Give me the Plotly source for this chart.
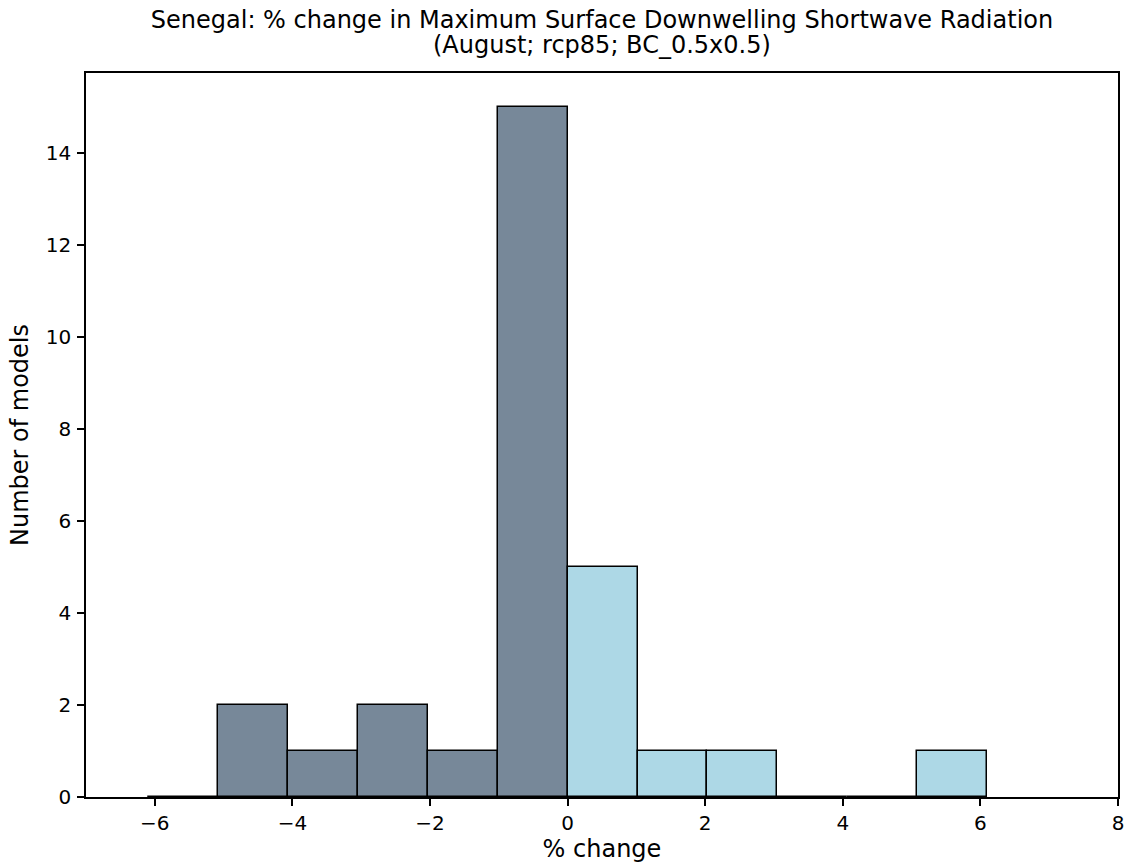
import plotly.graph_objects as go

# Histogram bin edges (12 bins, symmetric around 0)
bin_edges = [-6.1, -5.083, -4.067, -3.05, -2.033, -1.017, 0.0,
             1.017, 2.033, 3.05, 4.067, 5.083, 6.1]
# Model counts per bin
neg_counts = [0, 2, 1, 2, 1, 15]   # bins below 0
pos_counts = [5, 1, 1, 0, 0, 1]    # bins above 0

x_ticks = [-6, -4, -2, 0, 2, 4, 6, 8]
y_ticks = [0, 2, 4, 6, 8, 10, 12, 14]

title_line1 = "Senegal: % change in Maximum Surface Downwelling Shortwave Radiation"
title_line2 = "(August; rcp85; BC_0.5x0.5)"

centers = [(bin_edges[i] + bin_edges[i + 1]) / 2 for i in range(len(bin_edges) - 1)]
widths = [bin_edges[i + 1] - bin_edges[i] for i in range(len(bin_edges) - 1)]
n_neg = len(neg_counts)

fig = go.Figure()
fig.add_trace(go.Bar(
    x=centers[:n_neg], y=neg_counts, width=widths[:n_neg],
    marker=dict(color="#778899", line=dict(color="black", width=1.5)),
    showlegend=False,
))
fig.add_trace(go.Bar(
    x=centers[n_neg:], y=pos_counts, width=widths[n_neg:],
    marker=dict(color="#add8e6", line=dict(color="black", width=1.5)),
    showlegend=False,
))

font = dict(family="DejaVu Sans", size=20, color="black")
tfont = dict(family="DejaVu Sans", size=24, color="black")

H = 865
PH = 865 - 73 - 68

fig.update_layout(
    width=1128, height=865,
    margin=dict(l=86, r=10, t=73, b=68, autoexpand=False),
    paper_bgcolor="white", plot_bgcolor="white",
    font=font,
    bargap=0,
    title=dict(text=title_line1, x=0.5, xref="paper", xanchor="center",
               y=1 - 20 / H, yanchor="middle", yref="container", font=tfont),
    annotations=[dict(text=title_line2, x=0.5, xref="paper", xanchor="center",
                      y=1 + (73 - 45) / PH, yref="paper", yanchor="middle",
                      showarrow=False, font=tfont)],
)
fig.update_xaxes(
    range=[-7, 8], tickvals=x_ticks, ticks="outside", ticklen=7, tickwidth=1.5,
    tickcolor="black", showline=True, linecolor="black", linewidth=1.5,
    mirror=True, showgrid=False, zeroline=False,
    automargin=False,
    title=dict(text="% change", standoff=6), tickfont=font,
)
fig.update_yaxes(
    range=[0, 15.75], tickvals=y_ticks, ticks="outside", ticklen=7, tickwidth=1.5,
    tickcolor="black", showline=True, linecolor="black", linewidth=1.5,
    mirror=True, showgrid=False, zeroline=False, ticklabelstandoff=2,
    automargin=False,
    title=dict(text="Number of models", standoff=10), tickfont=font,
)

fig.write_html("out.html", config={"displayModeBar": False},
               post_script="document.body.style.margin='0';")
